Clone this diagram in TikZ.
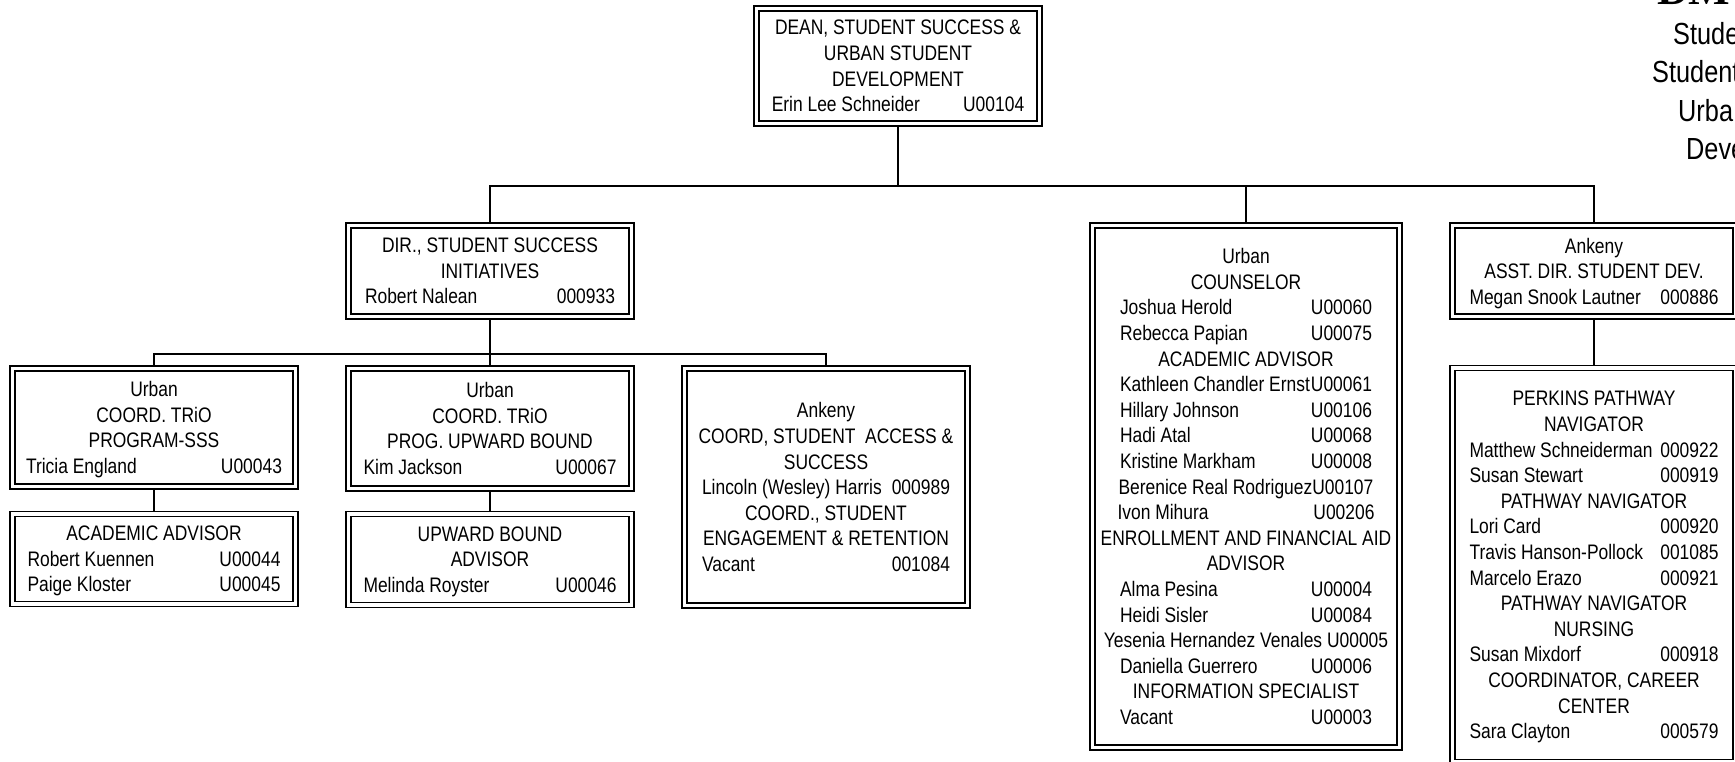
\documentclass[tikz,border=0pt]{standalone}
\usepackage{fontspec}
\setmainfont[FakeStretch=0.83]{Liberation Sans}
\newfontfamily\logofont{Liberation Serif}
\newcommand{\rowline}[3]{\raisebox{0pt}[\height][0pt]{\makebox[#1pt]{#2\hfill #3}}}
\tikzset{
    staffbox/.style={draw,double,line width=1.7pt,double distance=3.3pt,outer sep=3.35pt,inner sep=0pt,
        align=center,font=\fontsize{21}{25.6}\selectfont},
    corner/.style={inner sep=0pt,anchor=base west,font=\fontsize{30.5}{38}\selectfont},
    link/.style={line width=1.7pt}
}
\begin{document}
\begin{tikzpicture}[x=1pt,y=-1pt]
        \useasboundingbox (0,0) rectangle (1735,762);
        \begin{scope}[every node/.style={staffbox}]
            \node[minimum width=283pt,minimum height=115pt] (dean) at (898,66) {DEAN, STUDENT SUCCESS \&\\URBAN STUDENT\\DEVELOPMENT\\\rowline{252.5}{Erin Lee Schneider}{U00104}};
            \node[minimum width=283pt,minimum height=91pt] (dir) at (490,271) {DIR., STUDENT SUCCESS\\INITIATIVES\\\rowline{250}{Robert Nalean}{000933}};
            \node[minimum width=283pt,minimum height=118pt] (trio) at (154,427.5) {Urban\\COORD. TRiO\\PROGRAM-SSS\\\rowline{256}{Tricia England}{U00043}};
            \node[minimum width=283pt,minimum height=90pt] (acadv) at (154,559) {ACADEMIC ADVISOR\\\rowline{253}{Robert Kuennen}{U00044}\\\rowline{253}{Paige Kloster}{U00045}};
            \node[minimum width=283pt,minimum height=120pt] (upward) at (490,428.5) {Urban\\COORD. TRiO\\PROG. UPWARD BOUND\\\rowline{253}{Kim Jackson}{U00067}};
            \node[minimum width=283pt,minimum height=91pt] (upadv) at (490,559.5) {UPWARD BOUND\\ADVISOR\\\rowline{253}{Melinda Royster}{U00046}};
            \node[minimum width=283pt,minimum height=237pt] (access) at (826,487) {Ankeny\\COORD, STUDENT~ ACCESS \&\\SUCCESS\\\rowline{248}{Lincoln (Wesley) Harris}{000989}\\COORD., STUDENT\\ENGAGEMENT \& RETENTION\\\rowline{248}{Vacant}{001084}};
            \node[minimum width=307pt,minimum height=522pt] (urban) at (1246,486.5) {Urban\\COUNSELOR\\\rowline{252}{Joshua Herold}{U00060}\\\rowline{252}{Rebecca Papian}{U00075}\\ACADEMIC ADVISOR\\\rowline{252}{Kathleen Chandler Ernst}{U00061}\\\rowline{252}{Hillary Johnson}{U00106}\\\rowline{252}{Hadi Atal}{U00068}\\\rowline{252}{Kristine Markham}{U00008}\\\rowline{254}{Berenice Real Rodriguez}{U00107}\\\rowline{257}{Ivon Mihura}{U00206}\\ENROLLMENT AND FINANCIAL AID\\ADVISOR\\\rowline{252}{Alma Pesina}{U00004}\\\rowline{252}{Heidi Sisler}{U00084}\\Yesenia Hernandez Venales U00005\\\rowline{252}{Daniella Guerrero}{U00006}\\INFORMATION SPECIALIST\\\rowline{252}{Vacant}{U00003}};
            \node[minimum width=283pt,minimum height=91pt] (asst) at (1594,271) {Ankeny\\ASST. DIR. STUDENT DEV.\\\rowline{249}{Megan Snook Lautner}{000886}};
            \node[minimum width=283pt,minimum height=394pt] (perkins) at (1594,565) {PERKINS PATHWAY\\NAVIGATOR\\\rowline{249}{Matthew Schneiderman}{000922}\\\rowline{249}{Susan Stewart}{000919}\\PATHWAY NAVIGATOR\\\rowline{249}{Lori Card}{000920}\\\rowline{249}{Travis Hanson-Pollock}{001085}\\\rowline{249}{Marcelo Erazo}{000921}\\PATHWAY NAVIGATOR\\NURSING\\\rowline{249}{Susan Mixdorf}{000918}\\COORDINATOR, CAREER\\CENTER\\\rowline{249}{Sara Clayton}{000579}};
        \end{scope}
        \node[inner sep=0pt,anchor=base west,font=\logofont\bfseries\fontsize{44}{44}\selectfont] (logo) at (1657,5) {DM};
        \node[corner] (line1) at (1673,45) {Stude};
        \node[corner] (line2) at (1652,83) {Student};
        \node[corner] (line3) at (1678,122) {Urba};
        \node[corner] (line4) at (1686,160) {Deve};
        \coordinate (topbus) at (898,186);
        \coordinate (midbus) at (490,354);
        \draw[link] (dean) -- (topbus);
        \draw[link] (topbus) -| (dir);
        \draw[link] (topbus) -| (urban);
        \draw[link] (topbus) -| (asst);
        \draw[link] (dir) -- (upward);
        \draw[link] (midbus) -| (trio);
        \draw[link] (midbus) -| (access);
        \draw[link] (trio) -- (acadv);
        \draw[link] (upward) -- (upadv);
        \draw[link] (asst) -- (perkins);
\end{tikzpicture}
\end{document}
